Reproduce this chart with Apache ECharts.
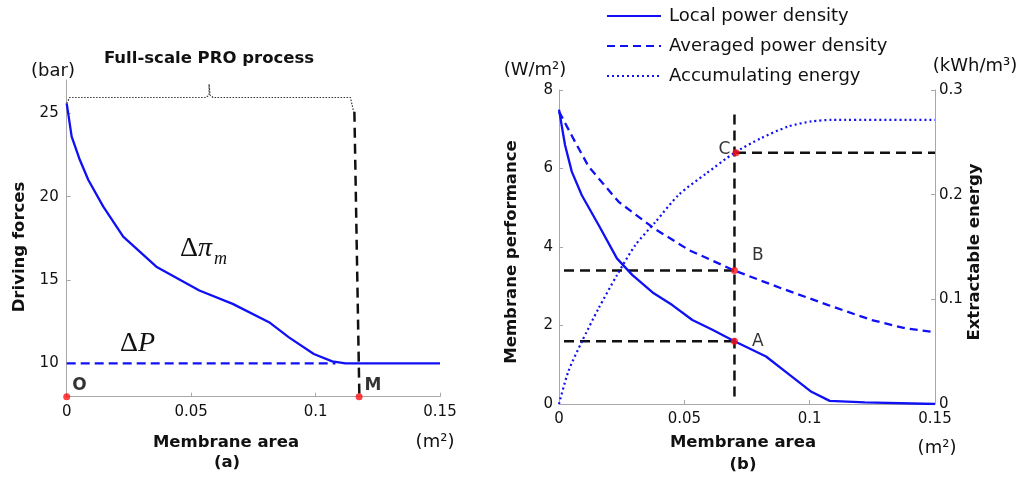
<!DOCTYPE html>
<html>
<head>
<meta charset="utf-8">
<script src="https://cdn.jsdelivr.net/npm/echarts@6/dist/echarts.min.js"></script>
<style>
html,body{margin:0;padding:0;background:#fff;}
#chart{width:1025px;height:481px;}
</style>
</head>
<body>
<div id="chart"></div>
<script>
// ---------- Panel (a): driving forces vs membrane area ----------
const aPiX = [0, 0.002, 0.0053, 0.0087, 0.0147, 0.0227, 0.036, 0.0533, 0.0667, 0.0813, 0.0893, 0.0993, 0.1067, 0.112, 0.15];
const aPiY = [25.6, 23.6, 22.2, 21.0, 19.4, 17.6, 15.8, 14.37, 13.57, 12.47, 11.56, 10.56, 10.12, 10.0, 10.0];
const aPX = [0, 0.108];
const aPY = [10, 10];
const aBraceX = [0, 0.0012, 0.0560, 0.0572, 0.0572, 0.0576, 0.0588, 0.1140, 0.1153];
const aBraceY = [25.6, 25.95, 25.95, 26.1, 26.75, 26.1, 25.95, 25.95, 25.1];
const aMLineX = [0.1156, 0.1176];
const aMLineY = [25.1, 8];
const aDotX = [0, 0.1175];
const aDotY = [8, 8];
const aDotNames = ['O', 'M'];
const aYTicks = [10, 15, 20, 25];

// ---------- Panel (b): membrane performance / extractable energy ----------
const bLocalX = [0, 0.0024, 0.0051, 0.0091, 0.0158, 0.0231, 0.0292, 0.0378, 0.0452, 0.0532, 0.0612, 0.07, 0.0826, 0.092, 0.1007, 0.108, 0.122, 0.15];
const bLocalY = [7.5, 6.6, 5.92, 5.32, 4.56, 3.71, 3.29, 2.82, 2.52, 2.14, 1.89, 1.6, 1.21, 0.74, 0.31, 0.08, 0.04, 0.0];
const bAvgX = [0, 0.0064, 0.0118, 0.0238, 0.0378, 0.0519, 0.07, 0.0886, 0.1074, 0.1247, 0.138, 0.15];
const bAvgY = [7.45, 6.68, 6.05, 5.15, 4.48, 3.92, 3.4, 2.95, 2.52, 2.14, 1.93, 1.83];
const bEnergyX = [0, 0.0037, 0.0091, 0.0158, 0.0231, 0.0305, 0.0385, 0.0478, 0.0586, 0.07, 0.0806, 0.0913, 0.1007, 0.1087, 0.15];
const bEnergyY = [0, 0.031, 0.0595, 0.0914, 0.123, 0.152, 0.174, 0.200, 0.220, 0.24, 0.254, 0.265, 0.270, 0.2714, 0.2714];
const bVLineX = [0.07, 0.07];
const bVLineY = [0.19, 7.45];
const bALineX = [0.002, 0.07];
const bALineY = [1.6, 1.6];
const bBLineX = [0.002, 0.07];
const bBLineY = [3.4, 3.4];
const bCLineX = [0.0706, 0.15];
const bCLineY = [6.4, 6.4];
const bDotX = [0.07, 0.07, 0.0706];
const bDotY = [1.6, 3.4, 6.4];
const bDotNames = ['A', 'B', 'C'];
const legendNames = ['Local power density', 'Averaged power density', 'Accumulating energy'];

const zip = (xs, ys) => xs.map((x, i) => [x, ys[i]]);

const BLUE = '#1010f5';
const AXIS = '#a8a8a8';
const FONT = 'DejaVu Sans';
const TXT = '#111111';

function xAxisCfg(grid) {
  return {
    type: 'value', gridIndex: grid, min: 0, max: 0.15, interval: 0.05,
    axisLine: {show: true, lineStyle: {color: AXIS, width: 1}},
    axisTick: {show: true, inside: true, length: 4, lineStyle: {color: AXIS}},
    splitLine: {show: false},
    axisLabel: {color: TXT, fontFamily: FONT, fontSize: 15, margin: 8}
  };
}

const option = {
  animation: false,
  backgroundColor: '#fff',
  grid: [
    {left: 66.7, top: 80, width: 373.3, height: 316.7},
    {left: 559, top: 90, width: 376, height: 314}
  ],
  xAxis: [xAxisCfg(0), xAxisCfg(1)],
  yAxis: [
    {
      type: 'value', gridIndex: 0, min: 8, max: 27,
      axisLine: {show: true, lineStyle: {color: AXIS, width: 1}},
      axisTick: {show: true, inside: true, length: 4, lineStyle: {color: AXIS}, customValues: aYTicks},
      splitLine: {show: false},
      axisLabel: {color: TXT, fontFamily: FONT, fontSize: 15, margin: 8, customValues: aYTicks}
    },
    {
      type: 'value', gridIndex: 1, min: 0, max: 8, interval: 2,
      axisLine: {show: true, lineStyle: {color: AXIS, width: 1}},
      axisTick: {show: true, inside: true, length: 4, lineStyle: {color: AXIS}},
      splitLine: {show: false},
      axisLabel: {color: TXT, fontFamily: FONT, fontSize: 15, margin: 6}
    },
    {
      type: 'value', gridIndex: 1, min: 0, max: 0.3, interval: 0.1, position: 'right',
      axisLine: {show: true, lineStyle: {color: AXIS, width: 1}},
      axisTick: {show: true, inside: true, length: 4, lineStyle: {color: AXIS}},
      splitLine: {show: false},
      axisLabel: {color: TXT, fontFamily: FONT, fontSize: 15, margin: 4}
    }
  ],
  legend: {
    data: legendNames,
    orient: 'vertical',
    left: 601, top: 2,
    itemWidth: 54, itemHeight: 16, itemGap: 12,
    itemStyle: {color: 'rgba(0,0,0,0)', borderWidth: 0, opacity: 0},
    textStyle: {color: TXT, fontFamily: FONT, fontSize: 18, padding: [0, 0, 0, 3]}
  },
  series: [
    // panel (a)
    {type: 'line', name: 'brace', xAxisIndex: 0, yAxisIndex: 0, data: zip(aBraceX, aBraceY), symbol: 'none',
     lineStyle: {color: '#333', width: 1.2, type: [1.5, 1.5]}, z: 2},
    {type: 'line', name: 'M line', xAxisIndex: 0, yAxisIndex: 0, data: zip(aMLineX, aMLineY), symbol: 'none',
     lineStyle: {color: '#111', width: 2.5, type: [10, 6]}, z: 2},
    {type: 'line', name: 'dP', xAxisIndex: 0, yAxisIndex: 0, data: zip(aPX, aPY), symbol: 'none',
     lineStyle: {color: BLUE, width: 2.3, type: [9, 5]}, z: 3},
    {type: 'line', name: 'dPi', xAxisIndex: 0, yAxisIndex: 0, data: zip(aPiX, aPiY), symbol: 'none',
     lineStyle: {color: BLUE, width: 2.3}, z: 4},
    {type: 'scatter', name: 'OM', xAxisIndex: 0, yAxisIndex: 0, data: zip(aDotX, aDotY), symbolSize: 7,
     itemStyle: {color: '#ff1010'}, z: 6,
     label: {show: true, position: 'right', distance: 2, offset: [0, -11], color: '#000', fontFamily: FONT, fontWeight: 'bold', fontSize: 17,
             formatter: p => aDotNames[p.dataIndex]}},
    // panel (b)
    {type: 'line', name: 'vguide', xAxisIndex: 1, yAxisIndex: 1, data: zip(bVLineX, bVLineY), symbol: 'none',
     lineStyle: {color: '#111', width: 2.5, type: [10, 6]}, z: 2},
    {type: 'line', name: 'Aguide', xAxisIndex: 1, yAxisIndex: 1, data: zip(bALineX, bALineY), symbol: 'none',
     lineStyle: {color: '#111', width: 2.5, type: [10, 6]}, z: 2},
    {type: 'line', name: 'Bguide', xAxisIndex: 1, yAxisIndex: 1, data: zip(bBLineX, bBLineY), symbol: 'none',
     lineStyle: {color: '#111', width: 2.5, type: [10, 6]}, z: 2},
    {type: 'line', name: 'Cguide', xAxisIndex: 1, yAxisIndex: 1, data: zip(bCLineX, bCLineY), symbol: 'none',
     lineStyle: {color: '#111', width: 2.5, type: [10, 6]}, z: 2},
    {type: 'line', name: legendNames[0], xAxisIndex: 1, yAxisIndex: 1, data: zip(bLocalX, bLocalY), symbol: 'none',
     color: BLUE, lineStyle: {color: BLUE, width: 2.3}, z: 4},
    {type: 'line', name: legendNames[1], xAxisIndex: 1, yAxisIndex: 1, data: zip(bAvgX, bAvgY), symbol: 'none',
     color: BLUE, lineStyle: {color: BLUE, width: 2.3, type: [8, 5]}, z: 4},
    {type: 'line', name: legendNames[2], xAxisIndex: 1, yAxisIndex: 2, data: zip(bEnergyX, bEnergyY), symbol: 'none', smooth: 0.25,
     color: BLUE, lineStyle: {color: BLUE, width: 2.2, type: [2, 3]}, z: 4},
    {type: 'scatter', name: 'ABC', xAxisIndex: 1, yAxisIndex: 1, data: zip(bDotX, bDotY), symbolSize: 7,
     itemStyle: {color: '#ff1010'}, z: 6,
     label: {show: true, color: '#000', fontFamily: FONT, fontSize: 17,
             position: 'right', distance: 14, offset: [0, 0],
             formatter: p => bDotNames[p.dataIndex]},
     labelLayout: p => {
       if (p.dataIndex === 1) return {dy: -15};
       if (p.dataIndex === 2) return {dx: -35, dy: -3};
       return {};
     }}
  ],
  graphic: [
    // panel (a) texts
    {type: 'text', x: 53, y: 71, style: {text: '(bar)', font: '18px "DejaVu Sans"', fill: TXT, align: 'center', verticalAlign: 'middle'}},
    {type: 'text', x: 209, y: 59, style: {text: 'Full-scale PRO process', font: 'bold 16.5px "DejaVu Sans"', fill: TXT, align: 'center', verticalAlign: 'middle'}},
    {type: 'text', x: 20, y: 247, rotation: Math.PI / 2, style: {text: 'Driving forces', font: 'bold 16.5px "DejaVu Sans"', fill: TXT, align: 'center', verticalAlign: 'middle'}},
    {type: 'text', x: 226, y: 443, style: {text: 'Membrane area', font: 'bold 16.5px "DejaVu Sans"', fill: TXT, align: 'center', verticalAlign: 'middle'}},
    {type: 'text', x: 227, y: 463, style: {text: '(a)', font: 'bold 16.5px "DejaVu Sans"', fill: TXT, align: 'center', verticalAlign: 'middle'}},
    {type: 'text', x: 435, y: 442, style: {text: '(m²)', font: '18px "DejaVu Sans"', fill: TXT, align: 'center', verticalAlign: 'middle'}},
    {type: 'text', x: 180, y: 249, style: {text: '{a|Δ}{b|π}', rich: {a: {font: '28px "Liberation Serif"', fill: TXT}, b: {font: 'italic 28px "Liberation Serif"', fill: TXT}}, align: 'left', verticalAlign: 'middle'}},
    {type: 'text', x: 214, y: 259, style: {text: 'm', font: 'italic 18px "Liberation Serif"', fill: TXT, align: 'left', verticalAlign: 'middle'}},
    {type: 'text', x: 120, y: 344, style: {text: '{a|Δ}{b|P}', rich: {a: {font: '28px "Liberation Serif"', fill: TXT}, b: {font: 'italic 28px "Liberation Serif"', fill: TXT}}, align: 'left', verticalAlign: 'middle'}},
    // panel (b) texts
    {type: 'text', x: 535, y: 70, style: {text: '(W/m²)', font: '18px "DejaVu Sans"', fill: TXT, align: 'center', verticalAlign: 'middle'}},
    {type: 'text', x: 975, y: 66, style: {text: '(kWh/m³)', font: '18px "DejaVu Sans"', fill: TXT, align: 'center', verticalAlign: 'middle'}},
    {type: 'text', x: 512, y: 252, rotation: Math.PI / 2, style: {text: 'Membrane performance', font: 'bold 16.5px "DejaVu Sans"', fill: TXT, align: 'center', verticalAlign: 'middle'}},
    {type: 'text', x: 975, y: 252, rotation: Math.PI / 2, style: {text: 'Extractable energy', font: 'bold 16.5px "DejaVu Sans"', fill: TXT, align: 'center', verticalAlign: 'middle'}},
    {type: 'text', x: 743, y: 443, style: {text: 'Membrane area', font: 'bold 16.5px "DejaVu Sans"', fill: TXT, align: 'center', verticalAlign: 'middle'}},
    {type: 'text', x: 743, y: 465, style: {text: '(b)', font: 'bold 16.5px "DejaVu Sans"', fill: TXT, align: 'center', verticalAlign: 'middle'}},
    {type: 'text', x: 937, y: 448, style: {text: '(m²)', font: '18px "DejaVu Sans"', fill: TXT, align: 'center', verticalAlign: 'middle'}}
  ]
};

const chart = echarts.init(document.getElementById('chart'), null, {renderer: 'canvas'});
chart.setOption(option);
</script>
</body>
</html>
